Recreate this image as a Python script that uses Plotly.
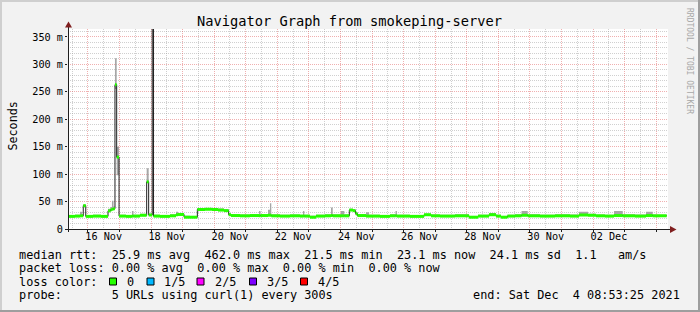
import pandas as pd
import plotly.graph_objects as go

# ---------------- data ----------------
title_text = "Navigator Graph from smokeping-server"
y_title = "Seconds"
watermark = "RRDTOOL / TOBI OETIKER"
window_start = "2021-11-15 08:53:25"
window_end = "2021-12-04 08:53:25"

# elapsed hours since window start at which each median step begins
sample_hours = [0, 5.3, 9.1, 10.6, 11.6, 13.5, 19.0, 25.1, 30.4, 32.3, 33.4, 34.6, 35.7, 37.0,
                38.8, 44.1, 48.6, 49.8, 54.7, 59.8, 61.3, 64.0, 65.0, 69.9, 77.5, 82.1, 83.6,
                88.2, 92.7, 98.3, 104.1, 109.4, 114.0, 118.6, 122.1, 123.9, 130.7, 138.3, 145.2,
                146.3, 152.0, 153.5, 154.5, 161.1, 168.7, 176.3, 178.6, 179.6, 183.9, 188.5,
                195.3, 199.9, 201.2, 207.5, 210.0, 213.8, 216.6, 218.5, 220.0, 226.5, 228.8,
                237.1, 244.7, 248.9, 250.0, 259.9, 270.6, 275.9, 282.7, 294.1, 304.8, 311.6,
                320.0, 325.3, 329.1, 334.0, 339.7, 344.7, 349.4, 358.7, 370.1, 381.5, 388.4,
                395.2, 401.3, 408.1, 415.0, 421.6, 430.9, 439.3, 444.4, 449.9]
data_end_hours = 455.0
median_ms = [23.0, 23.5, 24.0, 24.0, 42.5, 23.0, 23.5, 23.0, 33.0, 35.0, 36.0, 37.0, 263, 131,
             23.5, 23.0, 23.5, 23.5, 25.0, 86, 25.5, 462, 23.5, 23.0, 24.0, 26.0, 26.5,
             21.5, 21.5, 35.5, 36.0, 35.5, 34.5, 33.5, 26.0, 24.5, 24.0, 24.5, 24.0,
             24.5, 25.0, 25.0, 24.0, 23.5, 24.0, 23.5, 23.5, 23.5, 21.5, 23.5,
             24.0, 24.5, 24.0, 24.0, 24.0, 34.5, 33.5, 28.0, 24.5, 23.5, 23.5,
             23.0, 24.0, 24.0, 23.5, 23.0, 26.0, 24.0, 23.5, 24.0, 21.5, 23.5,
             26.0, 23.5, 21.5, 23.5, 24.0, 25.0, 24.0, 23.5, 24.0, 23.5, 25.5,
             25.0, 24.0, 23.5, 24.5, 24.0, 23.5, 24.5, 24.0, 24.1]
smoke_low_ms = [22, 22.5, 23, 23, 41, 22, 22.5, 22, 31, 33.5, 34.5, 35.5, 255, 98,
                22.5, 22, 22.5, 22.5, 23.5, 84, 24, 400, 22.5, 22, 23, 24, 24.5,
                20.5, 20.5, 34, 34.5, 34, 33, 32, 24.5, 23, 23, 23, 23,
                23, 23.5, 23.5, 23, 22.5, 23, 22.5, 22.5, 22.5, 20.5, 22.5,
                23, 23, 23, 23, 23, 33, 32, 26, 23, 22.5, 22.5,
                22, 23, 23, 22.5, 22, 24.5, 23, 22.5, 23, 20.5, 22.5,
                24.5, 22.5, 20.5, 22.5, 23, 23.5, 23, 22.5, 23, 22.5, 24,
                23.5, 23, 22.5, 23, 23, 22.5, 23, 23, 23]
smoke_high_ms = [25, 26, 31.5, 27, 44.5, 25, 26, 25.5, 37, 40, 51.5, 41, 311, 150,
                 26, 25, 33, 26, 28, 110.5, 28, 470, 26, 25.5, 27, 31.5, 29,
                 24, 23.5, 38.5, 38.5, 38, 37.5, 36, 28, 27, 26.5, 27, 33,
                 27, 35, 47, 27, 26, 26.5, 26, 33, 26, 24, 26,
                 27, 39, 27, 33, 27, 37, 36, 31, 27, 30.5, 26,
                 25.5, 27, 33, 26, 25.5, 28, 26.5, 26, 27, 23.5, 26,
                 29, 26, 23.5, 26, 27, 33, 27, 26, 27, 26.5, 31.5,
                 28, 26.5, 26, 33, 27, 26.5, 31.5, 26.5, 26]

y_ticks = [0, 50, 100, 150, 200, 250, 300, 350]
y_tick_text = ["0", "50 m", "100 m", "150 m", "200 m", "250 m", "300 m", "350 m"]
y_minor_step = 10
y_max = 364.5
label_days = ["2021-11-16", "2021-11-18", "2021-11-20", "2021-11-22", "2021-11-24",
              "2021-11-26", "2021-11-28", "2021-11-30", "2021-12-02"]
label_text = ["16 Nov", "18 Nov", "20 Nov", "22 Nov", "24 Nov", "26 Nov", "28 Nov",
              "30 Nov", "02 Dec"]

legend_rtt = "median rtt:  25.9 ms avg  462.0 ms max  21.5 ms min  23.1 ms now  24.1 ms sd  1.1   am/s"
legend_loss = "packet loss: 0.00 % avg  0.00 % max  0.00 % min  0.00 % now"
legend_color_title = "loss color:"
loss_labels = ["0", "1/5", "2/5", "3/5", "4/5"]
loss_colors = ["#26ff00", "#00b8ff", "#ff00ff", "#7e00ff", "#ff0000"]
probe_text = "probe:       5 URLs using curl(1) every 300s"
end_text = "end: Sat Dec  4 08:53:25 2021"

# ---------------- style ----------------
W, H = 700, 312
PL, PR, PT, PB = 68, 668, 29, 229
BACK = "#F2F2F2"
SHADEA = "#CFCFCF"
SHADEB = "#9E9E9E"
GRID = "rgba(150,150,150,0.45)"
MGRID = "rgba(222,79,79,0.45)"
ARROW = "#801F1F"
AXIS = "#1F1F1F"
SMOKE = "#A6A6A6"
MONO = "DejaVu Sans Mono"
DOTS = "1px,1px"


def fx(p):
    return (p - PL) / (PR - PL)


def fy(p):
    return (PB - p) / (PB - PT)


start = pd.Timestamp(window_start)
end = pd.Timestamp(window_end)
times = [start + pd.Timedelta(hours=h) for h in sample_hours]
t_last = start + pd.Timedelta(hours=data_end_hours)
xs = times + [t_last]

fig = go.Figure()

# smoke (spread of the pings)
fig.add_trace(go.Scatter(x=xs, y=smoke_low_ms + [smoke_low_ms[-1]], mode="lines",
                         line=dict(width=0, color="rgba(0,0,0,0)", shape="hv"),
                         hoverinfo="skip", showlegend=False))
fig.add_trace(go.Scatter(x=xs, y=smoke_high_ms + [smoke_high_ms[-1]], mode="lines",
                         line=dict(width=0, color="rgba(0,0,0,0)", shape="hv"),
                         fill="tonexty", fillcolor=SMOKE, hoverinfo="skip", showlegend=False))
# median (dark line)
fig.add_trace(go.Scatter(x=xs, y=median_ms + [median_ms[-1]], mode="lines",
                         line=dict(width=1, color="#202020", shape="hv"),
                         hoverinfo="skip", showlegend=False))
# loss colour band over the median
gx, gy = [], []
for i, v in enumerate(median_ms):
    gx += [xs[i], xs[i + 1], None]
    gy += [v, v, None]
fig.add_trace(go.Scatter(x=gx, y=gy, mode="lines", line=dict(width=3, color=loss_colors[0]),
                         hoverinfo="skip", showlegend=False, connectgaps=False))
# carriers for the overlay axes (major grid / labels)
fig.add_trace(go.Scatter(x=[start, end], y=[None, None], xaxis="x2", yaxis="y2", mode="lines",
                         hoverinfo="skip", showlegend=False))
fig.add_trace(go.Scatter(x=[start, end], y=[None, None], xaxis="x3", yaxis="y", mode="lines",
                         hoverinfo="skip", showlegend=False))

label_pos = [pd.Timestamp(d) + pd.Timedelta(hours=12) for d in label_days]
minor_y = [v for v in range(0, int(y_max) + 1, y_minor_step) if v not in y_ticks]
day0 = pd.Timestamp(label_days[0])

common = dict(showline=False, zeroline=False, fixedrange=True)
fig.update_layout(
    width=W, height=H,
    margin=dict(l=PL, r=W - PR, t=PT, b=H - PB, pad=0),
    paper_bgcolor=BACK, plot_bgcolor="#FFFFFF",
    showlegend=False,
    font=dict(family=MONO, size=10.2, color="#000000"),
    # minor grid (noon lines)
    xaxis=dict(type="date", range=[start, end], showgrid=True, gridcolor=GRID,
               griddash=DOTS, gridwidth=1, tickmode="linear",
               tick0=day0 + pd.Timedelta(hours=12), dtick=86400000,
               showticklabels=False, ticks="", **common),
    # major grid (midnight lines)
    xaxis2=dict(type="date", overlaying="x", matches="x", anchor="y2", side="bottom",
                showgrid=True, gridcolor=MGRID, griddash=DOTS, gridwidth=1,
                tickmode="linear", tick0=day0, dtick=86400000, showticklabels=False,
                ticks="outside", ticklen=2, tickcolor=AXIS, **common),
    # day labels
    xaxis3=dict(type="date", overlaying="x", matches="x", anchor="y", side="bottom",
                tickmode="array", tickvals=label_pos, ticktext=label_text, showgrid=False,
                ticks="", tickfont=dict(family=MONO, size=10.2, color="#000000"), **common),
    yaxis=dict(range=[0, y_max], tickmode="array", tickvals=minor_y, showticklabels=False,
               showgrid=True, gridcolor=GRID, griddash=DOTS, gridwidth=1, ticks="", **common),
    yaxis2=dict(range=[0, y_max], overlaying="y", matches="y", side="left", anchor="x2",
                tickmode="array", tickvals=y_ticks, ticktext=y_tick_text,
                showgrid=True, gridcolor=MGRID, griddash=DOTS, gridwidth=1,
                ticks="outside", ticklen=2, tickcolor=AXIS,
                tickfont=dict(family=MONO, size=10.2, color="#000000"), **common),
)

shapes = []
# 3D frame
shapes.append(dict(type="rect", xref="paper", yref="paper", x0=fx(0), x1=fx(W), y0=fy(0), y1=fy(2),
                   fillcolor=SHADEA, line=dict(width=0), layer="above"))
shapes.append(dict(type="rect", xref="paper", yref="paper", x0=fx(0), x1=fx(2), y0=fy(0), y1=fy(H),
                   fillcolor=SHADEA, line=dict(width=0), layer="above"))
shapes.append(dict(type="rect", xref="paper", yref="paper", x0=fx(0), x1=fx(W), y0=fy(H - 2), y1=fy(H),
                   fillcolor=SHADEB, line=dict(width=0), layer="above"))
shapes.append(dict(type="rect", xref="paper", yref="paper", x0=fx(W - 2), x1=fx(W), y0=fy(0), y1=fy(H),
                   fillcolor=SHADEB, line=dict(width=0), layer="above"))
# axes
shapes.append(dict(type="line", xref="paper", yref="paper", x0=fx(65), x1=fx(671),
                   y0=fy(229.5), y1=fy(229.5), line=dict(color=AXIS, width=1), layer="above"))
shapes.append(dict(type="line", xref="paper", yref="paper", x0=fx(68.5), x1=fx(68.5),
                   y0=fy(232), y1=fy(26), line=dict(color=AXIS, width=1), layer="above"))
# arrows
shapes.append(dict(type="path", xref="paper", yref="paper",
                   path=f"M {fx(65)} {fy(27.5)} L {fx(72)} {fy(27.5)} L {fx(68.5)} {fy(21.5)} Z",
                   fillcolor=ARROW, line=dict(width=0), layer="above"))
shapes.append(dict(type="path", xref="paper", yref="paper",
                   path=f"M {fx(670)} {fy(226)} L {fx(670)} {fy(233)} L {fx(676.5)} {fy(229.5)} Z",
                   fillcolor=ARROW, line=dict(width=0), layer="above"))
# loss colour boxes
box_left = [109.5, 147, 197, 249.5, 300.5]
for bx, col in zip(box_left, loss_colors):
    shapes.append(dict(type="rect", xref="paper", yref="paper", x0=fx(bx), x1=fx(bx + 7),
                       y0=fy(278), y1=fy(285), fillcolor=col,
                       line=dict(color="#000000", width=1), layer="above"))
fig.update_layout(shapes=shapes)

ann = []


def text(x, y, s, size=11.85, anchor="left", angle=0, color="#000000"):
    ann.append(dict(x=fx(x), y=fy(y), xref="paper", yref="paper", text=s, showarrow=False,
                    xanchor=anchor, yanchor="middle", textangle=angle,
                    font=dict(family=MONO, size=size, color=color)))


text(349.5, 21.2, title_text, size=13.7, anchor="center")
text(12.5, 126, y_title, size=11.7, anchor="center", angle=-90)
text(690, 61, watermark, size=8, anchor="center", angle=90, color="#A8A8A8")
text(17, 255, legend_rtt.replace(" ", "&nbsp;"))
text(17, 268.4, legend_loss.replace(" ", "&nbsp;"))
text(17, 281.8, legend_color_title.replace(" ", "&nbsp;"))
label_left = [125, 162, 212.7, 265, 316]
for lx, lab in zip(label_left, loss_labels):
    text(lx, 281.8, lab)
text(17, 295.2, probe_text.replace(" ", "&nbsp;"))
text(682, 295.2, end_text.replace(" ", "&nbsp;"), anchor="right")
fig.update_layout(annotations=ann)

fig.write_html("out.html")
